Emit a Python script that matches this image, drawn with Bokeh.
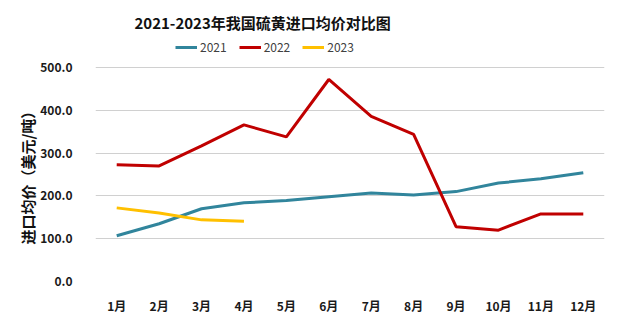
from bokeh.plotting import figure
from bokeh.models import Legend, LegendItem, Label, Title, Range1d, FactorRange, FixedTicker, NumeralTickFormatter
from bokeh.embed import file_html
from bokeh.resources import INLINE

months = ["1月", "2月", "3月", "4月", "5月", "6月", "7月", "8月", "9月", "10月", "11月", "12月"]
v2021 = [107, 135, 170, 184, 189, 198, 207, 202, 210, 230, 240, 254]
v2022 = [273, 270, 317, 366, 338, 472, 386, 344, 128, 120, 158, 158]
v2023 = [172, 160, 144, 141]
series_names = ["2021", "2022", "2023"]
colors = ["#31859C", "#C00000", "#FFC000"]
yticks = [0, 100, 200, 300, 400, 500]
title_text = "2021-2023年我国硫黄进口均价对比图"
ylabel = "进口均价（美元/吨）"

FONT = "Noto Sans CJK SC"

# frame extends to the top of the canvas; 500 sits 67px below the top
plot_h, bottom_border = 325, 44
frame_h = plot_h - bottom_border
y_top = 500 * frame_h / (frame_h - 67)

p = figure(width=627, height=plot_h, x_range=FactorRange(*months), y_range=Range1d(0, y_top),
           output_backend="svg", toolbar_location=None,
           min_border_left=95, min_border_right=23, min_border_top=0, min_border_bottom=bottom_border)
p.outline_line_color = None
p.background_fill_color = "white"
p.border_fill_color = "white"

r1 = p.line(months, v2021, line_color=colors[0], line_width=3)
r2 = p.line(months, v2022, line_color=colors[1], line_width=3)
r3 = p.line(months[:len(v2023)], v2023, line_color=colors[2], line_width=3)

p.yaxis.ticker = FixedTicker(ticks=yticks)
p.yaxis.formatter = NumeralTickFormatter(format="0.0")
for ax in (p.xaxis, p.yaxis):
    ax.axis_line_color = None
    ax.major_tick_line_color = None
    ax.minor_tick_line_color = None
    ax.major_label_text_font = FONT
    ax.major_label_text_font_style = "bold"
    ax.major_label_text_font_size = "12px"
    ax.major_label_text_color = "#1a1a1a"
p.yaxis.major_label_standoff = 17
p.xaxis.major_label_standoff = 9
p.xgrid.grid_line_color = None
p.ygrid.grid_line_color = "#D0D0D0"
p.ygrid.grid_line_width = 1

legend = Legend(items=[LegendItem(label=series_names[0], renderers=[r1]),
                       LegendItem(label=series_names[1], renderers=[r2]),
                       LegendItem(label=series_names[2], renderers=[r3])],
                orientation="horizontal", location=(80, 226),
                label_text_font=FONT, label_text_font_size="12px", label_text_color="#404040",
                glyph_width=22, glyph_height=10, spacing=12, padding=0, margin=0,
                label_standoff=3, border_line_color=None, background_fill_alpha=0)
p.add_layout(legend, "center")

title = Label(x=3.94, y=y_top * (frame_h - 22) / frame_h, text=title_text,
              text_font=FONT, text_font_style="bold", text_font_size="15px",
              text_align="center", text_baseline="middle", text_color="#111111")
p.add_layout(title)

yl = Title(text=ylabel, align="left", offset=37, text_font=FONT, text_font_style="bold",
           text_font_size="15px", text_color="#111111", standoff=0)
p.add_layout(yl, "left")

open("out.html", "w").write(file_html(p, INLINE))
